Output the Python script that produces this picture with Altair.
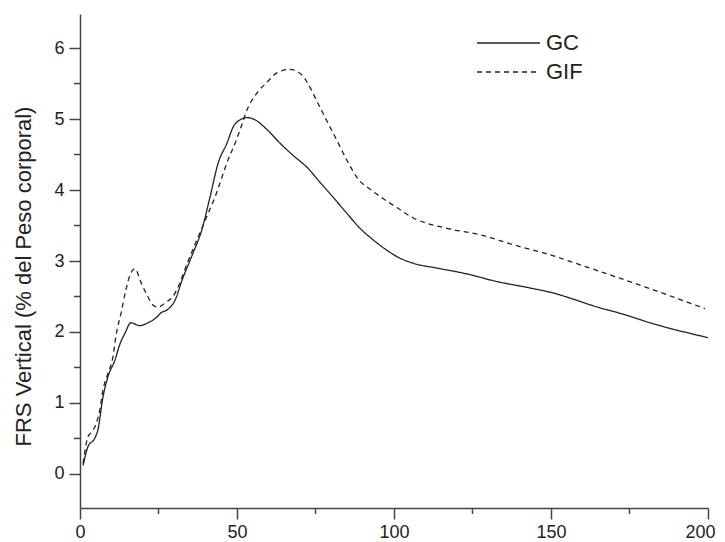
import altair as alt
import pandas as pd

gc_x = [1, 2.5, 4.8, 5.7, 7.3, 8.9, 11.1, 12.8, 14.3, 16.2, 19, 21.7, 24.2, 25.8, 28, 30.3,
        32.5, 35.7, 38.8, 41.4, 44, 46.8, 48.8, 51, 53.2, 55.7, 59.6, 63.7, 67.8, 72.3, 76.4,
        80.6, 85, 89.2, 93.3, 97.8, 101, 106, 113.7, 122, 132.8, 143.3, 149.7, 165.6, 173,
        181.5, 200]
gc_y = [0.12, 0.38, 0.51, 0.62, 1.08, 1.37, 1.6, 1.84, 1.98, 2.13, 2.09, 2.13, 2.2, 2.27, 2.32,
        2.45, 2.73, 3.08, 3.44, 3.9, 4.38, 4.66, 4.89, 4.99, 5.02, 4.99, 4.85, 4.66, 4.49, 4.32,
        4.11, 3.9, 3.67, 3.46, 3.3, 3.15, 3.06, 2.97, 2.9, 2.83, 2.71, 2.62, 2.56, 2.34, 2.25,
        2.13, 1.92]

gif_x = [1, 2.5, 3.5, 5, 6.3, 7.3, 8.9, 10.5, 11.5, 13.1, 14.6, 15.9, 17.5, 19.4, 21.7, 23.2,
         24.8, 27.4, 29.6, 31.2, 34, 38.8, 40.8, 43, 45.2, 47.1, 49.4, 51, 53.2, 56.4, 59.6,
         62.7, 66.9, 70.7, 73.2, 75.8, 79, 81.8, 85, 88.5, 92.4, 96.5, 101, 106, 116.9, 127.4,
         137.9, 148.7, 162.4, 178.3, 199]
gif_y = [0.15, 0.52, 0.58, 0.69, 0.9, 1.18, 1.42, 1.65, 1.96, 2.27, 2.59, 2.8, 2.89, 2.7, 2.49,
         2.38, 2.35, 2.42, 2.5, 2.63, 2.95, 3.46, 3.67, 3.9, 4.18, 4.42, 4.66, 4.85, 5.13, 5.37,
         5.52, 5.65, 5.7, 5.62, 5.45, 5.22, 4.94, 4.7, 4.42, 4.16, 4.01, 3.88, 3.75, 3.61, 3.46,
         3.37, 3.23, 3.1, 2.9, 2.66, 2.33]

series_names = ["GC", "GIF"]
x_major = [0, 50, 100, 150, 200]
x_minor = [25, 75, 125, 175]
y_major = [0, 1, 2, 3, 4, 5, 6]
y_minor = [0.5, 1.5, 2.5, 3.5, 4.5, 5.5]

rows = []
for xv, yv in zip(gc_x, gc_y):
    rows.append({"t": xv, "v": yv, "serie": series_names[0]})
for xv, yv in zip(gif_x, gif_y):
    rows.append({"t": xv, "v": yv, "serie": series_names[1]})
df = pd.DataFrame(rows)

FONT = "Liberation Sans"
AX = "#444444"
TXT = "#222222"
W, H = 628, 494

xscale = alt.Scale(domain=[0, 200], nice=False, zero=False)
yscale = alt.Scale(domain=[-0.48, 6.48], nice=False, zero=False)

xaxis = alt.Axis(values=x_major, title=None, grid=False, format="d", tickSize=11,
                 domainColor=AX, domainWidth=1.5, tickColor=AX, tickWidth=1.5,
                 labelFont=FONT, labelFontSize=18, labelColor=TXT, labelPadding=4,
                 labelOffset={"condition": {"test": "datum.value === 200", "value": -8}, "value": 0},
                 labelFlush=False, labelOverlap=False)
yaxis = alt.Axis(values=y_major, title="FRS Vertical (% del Peso corporal)", grid=False,
                 format="d", tickSize=11,
                 domainColor=AX, domainWidth=1.5, tickColor=AX, tickWidth=1.5,
                 labelFont=FONT, labelFontSize=18, labelColor=TXT, labelPadding=5,
                 labelFlush=False, labelOverlap=False,
                 titleFont=FONT, titleFontSize=22, titleFontWeight="normal",
                 titleColor=TXT, titleX=-45, titleY=262)

lines = alt.Chart(df).mark_line(
    color="#222222", strokeWidth=1.3, interpolate="monotone"
).encode(
    x=alt.X("t:Q", scale=xscale, axis=xaxis),
    y=alt.Y("v:Q", scale=yscale, axis=yaxis),
    strokeDash=alt.StrokeDash("serie:N",
                              scale=alt.Scale(domain=series_names, range=[[1, 0], [5, 4]]),
                              legend=alt.Legend(title=None, orient="none", legendX=396, legendY=14.5,
                                                symbolType="stroke", symbolSize=3969,
                                                symbolStrokeWidth=1.3, symbolStrokeColor="#222222",
                                                clipHeight=29, rowPadding=0, padding=0,
                                                labelFont=FONT, labelFontSize=22, labelColor=TXT,
                                                labelOffset=5)),
    order="t:Q",
)

y_minor_ticks = alt.Chart(pd.DataFrame({"v": y_minor})).mark_rule(
    color=AX, strokeWidth=1.5
).encode(
    y=alt.Y("v:Q", scale=yscale, axis=yaxis),
    x=alt.value(-6), x2=alt.value(0),
)

x_minor_ticks = alt.Chart(pd.DataFrame({"t": x_minor})).mark_rule(
    color=AX, strokeWidth=1.5
).encode(
    x=alt.X("t:Q", scale=xscale, axis=xaxis),
    y=alt.value(H), y2=alt.value(H + 6),
)

chart = alt.layer(lines, y_minor_ticks, x_minor_ticks).properties(
    width=W, height=H,
    autosize=alt.AutoSizeParams(type="none"),
    padding={"left": 72, "top": 6, "right": 9, "bottom": 34},
).configure_view(stroke=None)

chart.save("out.html", embed_options={"renderer": "svg", "actions": False})
